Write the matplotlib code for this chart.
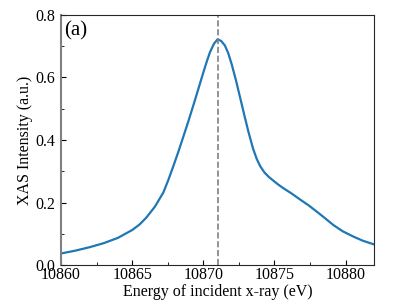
import numpy as np
import matplotlib
matplotlib.use('Agg')
import matplotlib.pyplot as plt
from matplotlib.ticker import MultipleLocator

plt.rcParams['font.family'] = ['Liberation Serif', 'DejaVu Serif']

# XAS spectrum
energy = [10860.0, 10861.0, 10862.0, 10863.0, 10864.0, 10865.0, 10865.5, 10866.0,
          10866.6, 10867.19, 10867.54, 10867.89, 10868.25, 10868.59, 10868.95,
          10869.3, 10869.65, 10870.0, 10870.25, 10870.47, 10870.75, 10871.0,
          10871.25, 10871.52, 10871.75, 10871.99, 10872.3, 10872.58, 10872.87,
          10873.16, 10873.5, 10873.75, 10874.0, 10874.3, 10874.6, 10874.92,
          10875.25, 10875.62, 10876.2, 10876.79, 10877.4, 10877.97, 10878.55,
          10879.14, 10879.8, 10880.55, 10881.2, 10882.0]
intensity = [0.037, 0.046, 0.057, 0.070, 0.087, 0.112, 0.129, 0.152,
             0.187, 0.232, 0.272, 0.316, 0.363, 0.410, 0.460,
             0.511, 0.563, 0.616, 0.652, 0.681, 0.708, 0.722,
             0.717, 0.702, 0.678, 0.643, 0.590, 0.537, 0.482,
             0.428, 0.372, 0.340, 0.316, 0.296, 0.282, 0.270,
             0.258, 0.246, 0.229, 0.210, 0.191, 0.171, 0.150,
             0.128, 0.108, 0.091, 0.078, 0.066]
peak_energy = 10871.0
panel_label = '(a)'

fig = plt.figure(figsize=(4.07, 3.05), dpi=100)
ax = fig.add_axes([0.150, 0.131, 0.769, 0.820])

ax.plot(energy, intensity, color='#1f77b4', lw=1.6, solid_joinstyle='round')
ax.axvline(peak_energy, color='gray', ls='--', lw=1.2)

ax.set_xlim(10860, 10882)
ax.set_ylim(0, 0.8)
ax.xaxis.set_major_locator(MultipleLocator(5))
ax.xaxis.set_minor_locator(MultipleLocator(2.5))
ax.yaxis.set_major_locator(MultipleLocator(0.2))
ax.yaxis.set_minor_locator(MultipleLocator(0.1))
ax.tick_params(which='both', direction='in', labelsize=11.5)
ax.tick_params(axis='x', which='both', pad=1.5)
ax.tick_params(axis='y', which='both', pad=4)
ax.tick_params(which='major', length=3.5)
ax.tick_params(which='minor', length=2)

ax.spines['left'].set_color('0.5')
ax.spines['left'].set_linewidth(1.5)
for s in ['top', 'right', 'bottom']:
    ax.spines[s].set_color('0.15')

ax.set_xlabel('Energy of incident x-ray (eV)', fontsize=11.5, labelpad=0.5)
ax.set_ylabel('XAS Intensity (a.u.)', fontsize=11.5, labelpad=2)
ax.text(0.01, 0.975, panel_label, transform=ax.transAxes, fontsize=15,
        ha='left', va='top')

plt.savefig('out.png', dpi=100)
plt.close()
